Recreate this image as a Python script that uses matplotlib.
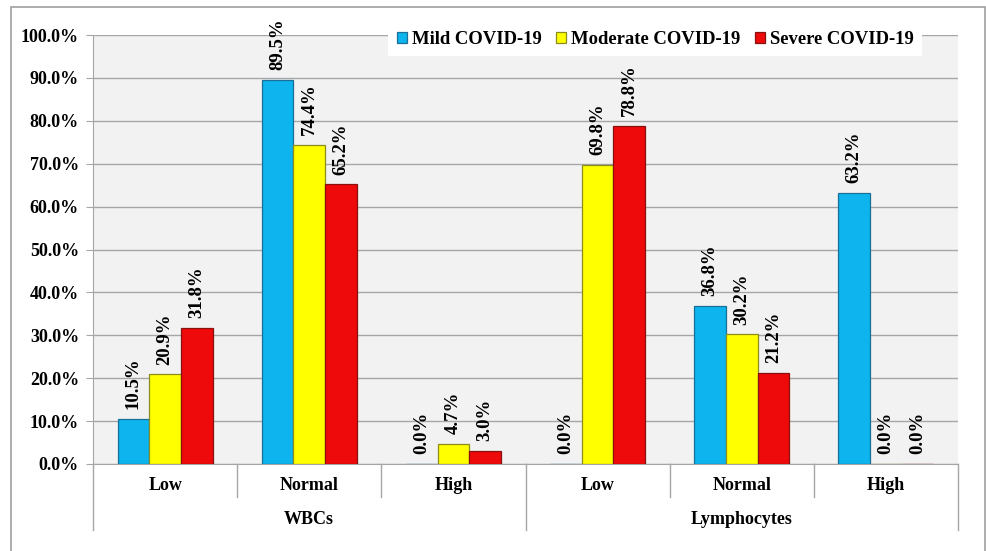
import numpy as np
import matplotlib.pyplot as plt
from matplotlib.patches import Rectangle

plt.rcParams['font.family'] = ['Liberation Serif', 'DejaVu Serif']
plt.rcParams['font.weight'] = 'bold'

levels = ['Low', 'Normal', 'High', 'Low', 'Normal', 'High']
groups = ['WBCs', 'Lymphocytes']
series = ['Mild COVID-19', 'Moderate COVID-19', 'Severe COVID-19']
mild = [10.5, 89.5, 0.0, 0.0, 36.8, 63.2]
moderate = [20.9, 74.4, 4.7, 69.8, 30.2, 0.0]
severe = [31.8, 65.2, 3.0, 78.8, 21.2, 0.0]

colors = ['#0db4ee', '#ffff00', '#ee0a0a']
edges = ['#1a6f96', '#8c8c1e', '#8a1010']

fig = plt.figure(figsize=(9.86, 5.51), dpi=100)
ax = fig.add_axes([93/986, 1 - 464/551, 865/986, 429/551])
ax.set_facecolor('#f2f2f2')

x = np.arange(len(levels))
w = 0.22
for i, (vals, name) in enumerate(zip([mild, moderate, severe], series)):
    pos = x + (i - 1) * w
    ax.bar(pos, vals, w, color=colors[i], edgecolor=edges[i], linewidth=0.9,
           label=name, zorder=3)
    for px, v in zip(pos, vals):
        ax.annotate(f'{v:.1f}%', (px, v), xytext=(0, 7), textcoords='offset points',
                    rotation=90, ha='center', va='bottom', fontsize=13.5,
                    fontweight='bold', zorder=4)

ax.set_xlim(-0.5, 5.5)
ax.set_ylim(0, 100)
ax.set_yticks(np.arange(0, 101, 10))
ax.set_yticklabels([f'{t:.1f}%' for t in np.arange(0, 101, 10)], fontsize=13,
                   fontweight='bold')
ax.grid(axis='y', color='#a6a6a6', linewidth=1, zorder=0)
ax.tick_params(axis='y', length=5, color='#a6a6a6', pad=5)
ax.set_xticks([])
for s in ['top', 'right']:
    ax.spines[s].set_visible(False)
ax.spines['left'].set_color('#a6a6a6')
ax.spines['bottom'].set_color('#a6a6a6')

# category axis labels and separators
trans = ax.get_xaxis_transform()
for xi, lab in zip(x, levels):
    ax.text(xi, -22/429, lab, transform=trans, ha='center', va='center',
            fontsize=13, fontweight='bold')
for b in np.arange(-0.5, 6.0, 1.0):
    depth = 66/429 if b in (-0.5, 2.5, 5.5) else 33/429
    ax.plot([b, b], [0, -depth], transform=trans, color='#a6a6a6', lw=1,
            clip_on=False)
for gi, g in enumerate(groups):
    ax.text(gi * 3 + 1, -55/429, g, transform=trans, ha='center', va='center',
            fontsize=13, fontweight='bold')

leg = ax.legend(loc='center', bbox_to_anchor=(0.65, 0.99), ncol=3, frameon=True,
                facecolor='white', edgecolor='none', framealpha=1, fancybox=False,
                handlelength=0.55, handleheight=0.55, handletextpad=0.25,
                columnspacing=0.8, borderpad=0.45,
                prop={'family': 'Liberation Serif', 'weight': 'bold', 'size': 13.4})
leg.set_zorder(5)

fig.patches.append(Rectangle((11/986, -0.01), 974/986, 1.01 - 7/551,
                             transform=fig.transFigure, fill=False,
                             edgecolor='#a0a0a0', lw=1.2))

fig.savefig('out.png', dpi=100)
